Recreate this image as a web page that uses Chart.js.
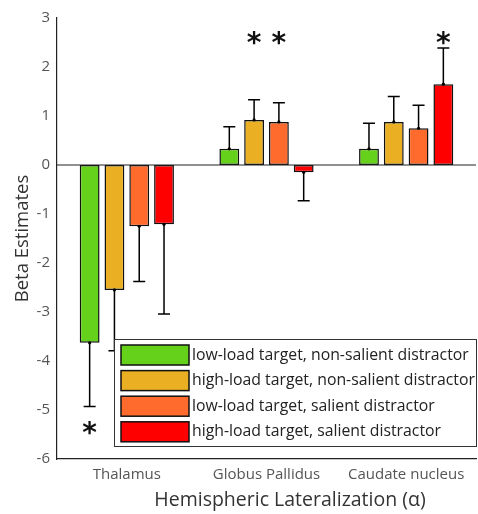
<!DOCTYPE html>
<html>
<head>
<meta charset="utf-8">
<script src="https://cdn.jsdelivr.net/npm/chart.js@4"></script>
<style>
  html, body { margin: 0; padding: 0; background: #fff; }
  #wrap { width: 478px; height: 514px; }
</style>
</head>
<body>
<div id="wrap"><canvas id="chart" width="478" height="514"></canvas></div>
<script>
const regions = ["Thalamus", "Globus Pallidus", "Caudate nucleus"];
const conditions = [
  "low-load target, non-salient distractor",
  "high-load target, non-salient distractor",
  "low-load target, salient distractor",
  "high-load target, salient distractor"
];
const colors = ["#66D11A", "#EAAF22", "#FF6A2D", "#FF0000"];
const xTitle = "Hemispheric Lateralization (\u03b1)";

// beta estimates per condition (Thalamus, Globus Pallidus, Caudate nucleus)
const lowNonSalient  = [-3.63, 0.33, 0.33];
const highNonSalient = [-2.55, 0.92, 0.88];
const lowSalient     = [-1.25, 0.88, 0.75];
const highSalient    = [-1.21, -0.15, 1.65];

// error bar lengths (drawn away from zero)
const errLowNonSalient  = [1.30, 0.45, 0.52];
const errHighNonSalient = [1.24, 0.41, 0.52];
const errLowSalient     = [1.13, 0.39, 0.47];
const errHighSalient    = [1.83, 0.58, 0.74];

// significance markers: value where the asterisk sits, null = none
const starLowNonSalient  = [-5.37, null, null];
const starHighNonSalient = [null, 2.6, null];
const starLowSalient     = [null, 2.6, null];
const starHighSalient    = [null, null, 2.6];

const yTicks = [3, 2, 1, 0, -1, -2, -3, -4, -5, -6];

const values = [lowNonSalient, highNonSalient, lowSalient, highSalient];
const errors = [errLowNonSalient, errHighNonSalient, errLowSalient, errHighSalient];
const stars = [starLowNonSalient, starHighNonSalient, starLowSalient, starHighSalient];

const FONT = "'Open Sans', Lato, sans-serif";

const extrasPlugin = {
  id: "extras",
  afterDatasetsDraw(chart) {
    const ctx = chart.ctx;
    const y = chart.scales.y;
    const area = chart.chartArea;
    ctx.save();
    // zero line
    ctx.strokeStyle = "#222";
    ctx.lineWidth = 1.2;
    ctx.beginPath();
    ctx.moveTo(area.left, y.getPixelForValue(0));
    ctx.lineTo(area.right, y.getPixelForValue(0));
    ctx.stroke();

    // error bars
    chart.data.datasets.forEach((ds, di) => {
      const meta = chart.getDatasetMeta(di);
      meta.data.forEach((bar, i) => {
        const v = values[di][i];
        const e = errors[di][i];
        const end = v >= 0 ? v + e : v - e;
        const py0 = y.getPixelForValue(v);
        const py1 = y.getPixelForValue(end);
        ctx.strokeStyle = "#000";
        ctx.lineWidth = 1.5;
        ctx.beginPath();
        ctx.moveTo(bar.x, py0);
        ctx.lineTo(bar.x, py1);
        ctx.moveTo(bar.x - 6, py1);
        ctx.lineTo(bar.x + 6, py1);
        ctx.stroke();
        ctx.fillStyle = "#000";
        ctx.beginPath();
        ctx.arc(bar.x, py0, 1.6, 0, Math.PI * 2);
        ctx.fill();

        const s = stars[di][i];
        if (s !== null) {
          ctx.font = "bold 28px 'DejaVu Sans', sans-serif";
          ctx.textAlign = "center";
          ctx.textBaseline = "middle";
          ctx.fillStyle = "#111";
          ctx.fillText("*", bar.x, y.getPixelForValue(s) + 7);
        }
      });
    });

    // legend box
    const lx = 114, ly = 339, lw = 363, lh = 108;
    ctx.fillStyle = "#fff";
    ctx.fillRect(lx, ly, lw, lh);
    ctx.strokeStyle = "#333";
    ctx.lineWidth = 1;
    ctx.strokeRect(lx + 0.5, ly + 0.5, lw - 1, lh - 1);
    chart.data.datasets.forEach((ds, di) => {
      const ry = ly + 6 + di * 25.6;
      ctx.fillStyle = ds.backgroundColor;
      ctx.fillRect(lx + 7, ry, 68, 20);
      ctx.strokeStyle = "#111";
      ctx.lineWidth = 1.5;
      ctx.strokeRect(lx + 7, ry, 68, 20);
      ctx.fillStyle = "#222";
      ctx.font = "15.8px " + FONT;
      ctx.textAlign = "left";
      ctx.textBaseline = "middle";
      ctx.fillText(ds.label, lx + 78, ry + 10);
    });

    // x axis title, centred a little right of the plot like the original figure
    ctx.fillStyle = "#333";
    ctx.font = "19.5px " + FONT;
    ctx.textAlign = "center";
    ctx.textBaseline = "middle";
    ctx.fillText(xTitle, 290, 500);
    ctx.restore();
  }
};

new Chart(document.getElementById("chart"), {
  type: "bar",
  data: {
    labels: regions,
    datasets: conditions.map((c, i) => ({
      label: c,
      data: values[i],
      backgroundColor: colors[i],
      borderColor: "#111",
      borderWidth: 1.5,
      borderSkipped: false,
      categoryPercentage: 0.71,
      barPercentage: 0.8
    }))
  },
  options: {
    responsive: false,
    animation: false,
    layout: { padding: { left: 12, right: 2, top: 18, bottom: 2 } },
    plugins: {
      legend: { display: false },
      tooltip: { enabled: false }
    },
    scales: {
      y: {
        min: -6,
        max: 3,
        afterBuildTicks: (s) => { s.ticks = yTicks.map(v => ({ value: v })); },
        grid: { display: false, drawTicks: false },
        border: { color: "#222", width: 1.2 },
        ticks: { color: "#555", padding: 7, font: { family: FONT, size: 15 } },
        title: {
          display: true,
          text: "Beta Estimates",
          color: "#333",
          font: { family: FONT, size: 18.5 },
          padding: { top: 0, bottom: 2 }
        },
        afterFit: (s) => { s.width = 45; }
      },
      x: {
        grid: { display: false, drawTicks: false },
        border: { color: "#222", width: 1.2 },
        ticks: { color: "#555", padding: 7, font: { family: FONT, size: 15 } },
        title: { display: false },
        afterFit: (s) => { s.height = 53; }
      }
    }
  },
  plugins: [extrasPlugin]
});
</script>
</body>
</html>
